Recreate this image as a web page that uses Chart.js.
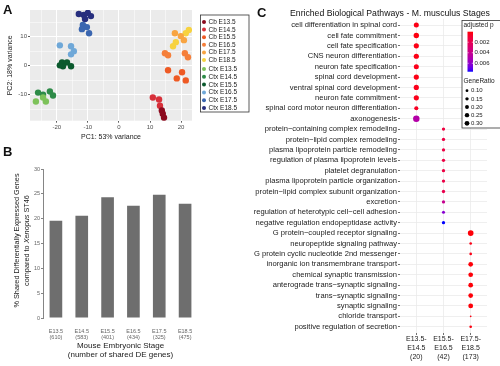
<!DOCTYPE html>
<html><head><meta charset="utf-8">
<script src="https://cdn.jsdelivr.net/npm/chart.js@4.4.1/dist/chart.umd.min.js"></script>
<style>
html,body{margin:0;padding:0;background:#fff;width:500px;height:366px;overflow:hidden;font-family:"Liberation Sans",Arial,sans-serif;}
canvas{position:absolute;}
#cA{left:0;top:0;width:255px;height:145px;}
#cB{left:0;top:145px;width:215px;height:221px;}
#cC{left:240px;top:0;width:260px;height:366px;}
.lbl{position:absolute;font-weight:bold;font-size:13px;line-height:1;color:#111;z-index:5;}
#tC{position:absolute;left:290px;top:8.5px;font-size:8.7px;line-height:1;color:#111;white-space:nowrap;z-index:5;}
</style></head><body>
<canvas id="cA" width="255" height="145"></canvas>
<canvas id="cB" width="215" height="221"></canvas>
<canvas id="cC" width="260" height="366"></canvas>
<div class="lbl" style="left:3px;top:3.3px">A</div>
<div class="lbl" style="left:3px;top:145.3px">B</div>
<div class="lbl" style="left:257px;top:6.3px">C</div>
<div id="tC">Enriched Biological Pathways - M. musculus Stages</div>
<script>
const FONT = '"Liberation Sans", Arial, sans-serif';

// ---------- Panel A data (PCA) ----------
const pcaGroups = ['Cb E13.5','Cb E14.5','Cb E15.5','Cb E16.5','Cb E17.5','Cb E18.5',
                   'Ctx E13.5','Ctx E14.5','Ctx E15.5','Ctx E16.5','Ctx E17.5','Ctx E18.5'];
const pcaColors = ['#8c0a1e','#d7303a','#ee5a24','#f57f3a','#f8a441','#f7d23e',
                   '#7dc25a','#2e8b48','#0b5a2e','#6fa8d8','#3a66b0','#262e7e'];
const pc1 = [
  [13.8,14.1,14.5],
  [10.9,12.9,13.2],
  [15.8,18.6,20.3,21.5],
  [14.8,15.8,21.2,22.2],
  [18.0,19.9,20.9],
  [17.4,18.3,21.5,22.5],
  [-26.7,-23.5,-24.4],
  [-26.0,-24.4,-22.2,-21.2],
  [-18.3,-16.7,-18.0,-15.4,-19.0],
  [-19.0,-15.4,-14.5,-15.4],
  [-11.6,-10.3,-11.9,-9.6],
  [-12.9,-11.3,-10.0,-9.0,-10.9]
];
const pc2 = [
  [-15.5,-16.6,-18.0],
  [-11.0,-11.7,-13.8],
  [-1.6,-4.4,-2.3,-5.1],
  [4.3,3.6,4.3,2.9],
  [11.2,10.2,8.8],
  [6.7,8.1,11.2,12.3],
  [-12.4,-12.4,-11.0],
  [-9.3,-10.0,-8.9,-10.3],
  [1.1,1.1,-0.2,-0.2,0.1],
  [7.0,6.7,5.0,3.9],
  [14.0,13.3,12.6,11.2],
  [17.8,17.5,18.2,17.1,16.1]
];
const pc1Ticks = [-25,-20,-15,-10,-5,0,5,10,15,20];
const pc2Ticks = [-15,-10,-5,0,5,10,15];

// ---------- Panel B data ----------
const stages = ['E13.5','E14.5','E15.5','E16.5','E17.5','E18.5'];
const deCounts = [610,583,401,434,325,475];
const sharedPct = [19.6,20.6,24.3,22.6,24.8,23.0];

// ---------- Panel C data ----------
const pathways = [
  'cell differentiation in spinal cord','cell fate commitment','cell fate specification',
  'CNS neuron differentiation','neuron fate specification','spinal cord development',
  'ventral spinal cord development','neuron fate commitment','spinal cord motor neuron differentiation',
  'axonogenesis',
  'protein\u2212containing complex remodeling','protein\u2212lipid complex remodeling',
  'plasma lipoprotein particle remodeling','regulation of plasma lipoprotein levels',
  'platelet degranulation','plasma lipoprotein particle organization',
  'protein\u2212lipid complex subunit organization','excretion',
  'regulation of heterotypic cell\u2212cell adhesion','negative regulation endopeptidase activity',
  'G protein\u2212coupled receptor signaling','neuropeptide signaling pathway',
  'G protein cyclic nucleotide 2nd messenger','inorganic ion transmembrane transport',
  'chemical synaptic transmission','anterograde trans\u2212synaptic signaling',
  'trans\u2212synaptic signaling','synaptic signaling','chloride transport',
  'positive regulation of secretion'
];
const stageCols = [['E13.5-','E14.5','(20)'],['E15.5-','E16.5','(42)'],['E17.5-','E18.5','(173)']];
const pathwayCol = [0,0,0,0,0,0,0,0,0,0, 1,1,1,1,1,1,1,1,1,1, 2,2,2,2,2,2,2,2,2,2];
const geneRatio = [0.33,0.38,0.35,0.35,0.33,0.35,0.35,0.35,0.22,0.55,
                   0.14,0.14,0.14,0.14,0.14,0.14,0.14,0.14,0.12,0.14,
                   0.42,0.09,0.09,0.29,0.29,0.29,0.29,0.30,0.04,0.09];
const padj = [0.0003,0.0002,0.0003,0.0003,0.0004,0.0003,0.0004,0.0004,0.0006,0.0048,
              0.0014,0.0015,0.0015,0.0015,0.0015,0.0016,0.0018,0.0040,0.0062,0.0076,
              0.0001,0.0003,0.0003,0.0001,0.0001,0.0001,0.0001,0.0001,0.0002,0.0002];
const padjTicks = [0.002,0.004,0.006];
const ratioTicks = [0.10,0.15,0.20,0.25,0.30];
const P_MIN = 0, P_MAX = 0.0076;

// ---------- colour helpers (red -> blue in Lab, like ggplot) ----------
function s2l(c){c/=255;return c<=0.04045?c/12.92:Math.pow((c+0.055)/1.055,2.4);}
function l2s(c){c=c<=0.0031308?12.92*c:1.055*Math.pow(c,1/2.4)-0.055;return Math.max(0,Math.min(255,Math.round(c*255)));}
function toLab(rgb){const [r,g,b]=rgb.map(s2l);
  let X=(0.4124*r+0.3576*g+0.1805*b)/0.95047,Y=0.2126*r+0.7152*g+0.0722*b,Z=(0.0193*r+0.1192*g+0.9505*b)/1.08883;
  const f=t=>t>0.008856?Math.cbrt(t):7.787*t+16/116;
  const fx=f(X),fy=f(Y),fz=f(Z);return [116*fy-16,500*(fx-fy),200*(fy-fz)];}
function fromLab([L,a,b]){const fy=(L+16)/116,fx=fy+a/500,fz=fy-b/200;
  const fi=t=>t*t*t>0.008856?t*t*t:(t-16/116)/7.787;
  const X=fi(fx)*0.95047,Y=fi(fy),Z=fi(fz)*1.08883;
  const r=3.2406*X-1.5372*Y-0.4986*Z,g=-0.9689*X+1.8758*Y+0.0415*Z,bb=0.0557*X-0.2040*Y+1.0570*Z;
  return 'rgb('+l2s(r)+','+l2s(g)+','+l2s(bb)+')';}
const LAB_LO = toLab([255,0,0]), LAB_HI = toLab([0,0,255]);
function pColor(p){const t=Math.max(0,Math.min(1,(p-P_MIN)/(P_MAX-P_MIN)));
  return fromLab([0,1,2].map(k=>LAB_LO[k]+(LAB_HI[k]-LAB_LO[k])*t));}
function ratioRadius(r){return 4.38*Math.sqrt(r);}

// ---------- Panel A ----------
const bgPlugin = {id:'bgA', beforeDraw(chart){const a=chart.chartArea,ctx=chart.ctx;ctx.save();ctx.fillStyle='#ebebeb';ctx.fillRect(a.left,a.top,a.right-a.left,a.bottom-a.top);ctx.restore();}};
const legendA = {id:'legA', afterDraw(chart){
  const ctx=chart.ctx; ctx.save();
  ctx.fillStyle='#fff'; ctx.fillRect(200.5,15,48.5,97);
  ctx.strokeStyle='#333'; ctx.lineWidth=0.8; ctx.strokeRect(200.5,15,48.5,97);
  ctx.font='6.5px '+FONT; ctx.textBaseline='middle'; ctx.textAlign='left';
  pcaGroups.forEach((g,i)=>{
    const y = i<6 ? 22+i*7.6 : 69+(i-6)*7.8;
    ctx.fillStyle=pcaColors[i]; ctx.beginPath(); ctx.arc(204,y,2,0,Math.PI*2); ctx.fill();
    ctx.fillStyle='#1a1a1a'; ctx.fillText(g,208.5,y+0.3);
  });
  ctx.restore();}};
const majorA = v => Math.abs(v%10)<1e-9;
new Chart(document.getElementById('cA'), {
  type:'scatter',
  data:{datasets: pcaGroups.map((g,i)=>({label:g,
    data: pc1[i].map((x,j)=>({x:x, y:pc2[i][j]})),
    backgroundColor:pcaColors[i], borderWidth:0, pointRadius:3.2, pointHoverRadius:3.2}))},
  options:{responsive:false, animation:false, events:[],
    layout:{padding:{top:10,right:63,left:0,bottom:0}},
    plugins:{legend:{display:false}, tooltip:{enabled:false}},
    scales:{
      x:{type:'linear', min:-28.6, max:23.5,
        afterBuildTicks:s=>{s.ticks=pc1Ticks.map(v=>({value:v}));},
        afterFit:s=>{s.height=24.3;},
        grid:{color:'#ffffff', lineWidth:c=>c.tick&&majorA(c.tick.value)?1:0.5,
              tickColor:c=>c.tick&&majorA(c.tick.value)?'#333':'rgba(0,0,0,0)', tickWidth:0.8, tickLength:2},
        border:{display:false},
        ticks:{callback:v=>majorA(v)?String(v):'', font:{size:6,family:FONT}, color:'#4d4d4d', padding:1, maxRotation:0, autoSkip:false},
        title:{display:true, text:'PC1: 53% variance', font:{size:7,family:FONT}, color:'#1a1a1a', padding:{top:0,bottom:3.8}}},
      y:{type:'linear', min:-19.0, max:19.2,
        afterBuildTicks:s=>{s.ticks=pc2Ticks.map(v=>({value:v}));},
        afterFit:s=>{s.width=30;},
        grid:{color:'#ffffff', lineWidth:c=>c.tick&&majorA(c.tick.value)?1:0.5,
              tickColor:c=>c.tick&&majorA(c.tick.value)?'#333':'rgba(0,0,0,0)', tickWidth:0.8, tickLength:2},
        border:{display:false},
        ticks:{callback:v=>majorA(v)?String(v):'', font:{size:6,family:FONT}, color:'#4d4d4d', padding:1, autoSkip:false},
        title:{display:true, text:'PC2: 18% variance', font:{size:7,family:FONT}, color:'#1a1a1a', padding:{top:5.8,bottom:0}}}
    }},
  plugins:[bgPlugin, legendA]
});

// ---------- Panel B ----------
const yTitleB = {id:'yTitleB', afterDraw(chart){
  const ctx=chart.ctx, a=chart.chartArea, cy=(a.top+a.bottom)/2 - 3;
  ctx.save(); ctx.fillStyle='#1a1a1a'; ctx.textBaseline='middle';
  const lines=[[['% Shared Differentially Expressed Genes','normal']],
               [['compared to ','normal'],['Xenopus','italic'],[' ST46','normal']]];
  const xs=[17,26.5];
  lines.forEach((segs,li)=>{
    ctx.save(); ctx.translate(xs[li],cy); ctx.rotate(-Math.PI/2);
    let total=0; segs.forEach(s=>{ctx.font=s[1]+' 7.3px '+FONT; total+=ctx.measureText(s[0]).width;});
    let x=-total/2; ctx.textAlign='left';
    segs.forEach(s=>{ctx.font=s[1]+' 7.3px '+FONT; ctx.fillText(s[0],x,0); x+=ctx.measureText(s[0]).width;});
    ctx.restore();
  });
  ctx.restore();}};
new Chart(document.getElementById('cB'), {
  type:'bar',
  data:{labels: stages.map((s,i)=>[s,'('+deCounts[i]+')']),
    datasets:[{data:sharedPct, backgroundColor:'#6e6e6e', barPercentage:0.49, categoryPercentage:1}]},
  options:{responsive:false, animation:false, events:[],
    layout:{padding:{top:24,right:17,left:0,bottom:0}},
    plugins:{legend:{display:false}, tooltip:{enabled:false}},
    scales:{
      x:{grid:{display:false}, border:{display:false},
        afterFit:s=>{s.height=48;},
        ticks:{font:{size:5.5,family:FONT,lineHeight:1.27}, color:'#666', padding:1.5, maxRotation:0, autoSkip:false},
        title:{display:true, text:['Mouse Embryonic Stage','(number of shared DE genes)'],
          font:{size:8,family:FONT,lineHeight:1.2}, color:'#1a1a1a', padding:{top:0,bottom:6.2}}},
      y:{min:0, max:30, afterFit:s=>{s.width=43;},
        ticks:{stepSize:5, font:{size:5.5,family:FONT}, color:'#666', padding:1},
        grid:{drawOnChartArea:false, color:'#666', tickLength:2, tickWidth:0.8},
        border:{display:true, color:'#666', width:0.8}}
    }},
  plugins:[yTitleB]
});

// ---------- Panel C ----------
const OX = 240;
const legendC = {id:'legC', afterDraw(chart){
  const ctx=chart.ctx; ctx.save();
  const bx=462-OX, by=20.5;
  ctx.fillStyle='#fff'; ctx.fillRect(bx,by,260-bx,107.5);
  ctx.strokeStyle='#333'; ctx.lineWidth=0.8; ctx.strokeRect(bx,by,262-bx,107.5);
  ctx.fillStyle='#1a1a1a'; ctx.font='6.5px '+FONT; ctx.textBaseline='middle'; ctx.textAlign='left';
  ctx.fillText('adjusted p', 463.5-OX, 25.5);
  const top=31.7, h=40, x0=467.5-OX, w=5.5;
  const grad=ctx.createLinearGradient(0,top,0,top+h);
  for(let i=0;i<=20;i++){grad.addColorStop(i/20,pColor(P_MIN+(P_MAX-P_MIN)*i/20));}
  ctx.fillStyle=grad; ctx.fillRect(x0,top,w,h);
  ctx.font='6px '+FONT; ctx.fillStyle='#1a1a1a';
  padjTicks.forEach(p=>{const y=top+(p-P_MIN)/(P_MAX-P_MIN)*h;
    ctx.strokeStyle='#fff'; ctx.lineWidth=0.6; ctx.beginPath(); ctx.moveTo(x0,y); ctx.lineTo(x0+1.2,y); ctx.moveTo(x0+w-1.2,y); ctx.lineTo(x0+w,y); ctx.stroke();
    ctx.fillStyle='#1a1a1a'; ctx.fillText(p.toFixed(3), 474.5-OX, y);});
  ctx.font='6.5px '+FONT; ctx.fillText('GeneRatio', 463.5-OX, 81);
  ctx.font='6px '+FONT;
  ratioTicks.forEach((r,i)=>{const y=90.7+i*8.15;
    ctx.fillStyle='#000'; ctx.beginPath(); ctx.arc(467-OX,y,ratioRadius(r),0,Math.PI*2); ctx.fill();
    ctx.fillStyle='#1a1a1a'; ctx.fillText(r.toFixed(2), 471-OX, y);});
  ctx.restore();}};
new Chart(document.getElementById('cC'), {
  type:'bubble',
  data:{datasets:[{
    data: pathways.map((p,i)=>({x:pathwayCol[i], y:i, r:ratioRadius(geneRatio[i])})),
    backgroundColor: padj.map(pColor), borderWidth:0, hoverRadius:0}]},
  options:{responsive:false, animation:false, events:[],
    layout:{padding:{top:18.8,right:13,left:0,bottom:0}},
    plugins:{legend:{display:false}, tooltip:{enabled:false}},
    scales:{
      x:{type:'linear', min:-0.6, max:2.6,
        afterBuildTicks:s=>{s.ticks=stageCols.map((c,i)=>({value:i}));},
        afterFit:s=>{s.height=33;},
        grid:{color:'#ebebeb', lineWidth:0.8, tickColor:'#333', tickLength:2, tickWidth:0.7},
        border:{display:false},
        ticks:{callback:v=>stageCols[v], font:{size:7,family:FONT,lineHeight:1.28}, color:'#1a1a1a', padding:0, maxRotation:0, autoSkip:false}},
      y:{type:'linear', min:-0.6, max:29.6, reverse:true,
        afterBuildTicks:s=>{s.ticks=pathways.map((p,i)=>({value:i}));},
        afterFit:s=>{s.width=160;},
        grid:{color:'#ebebeb', lineWidth:0.8, tickColor:'#333', tickLength:2, tickWidth:0.7},
        border:{display:false},
        ticks:{callback:v=>pathways[v], font:{size:7.6,family:FONT}, color:'#1a1a1a', padding:1, autoSkip:false}}
    }},
  plugins:[legendC]
});
</script>
</body></html>
